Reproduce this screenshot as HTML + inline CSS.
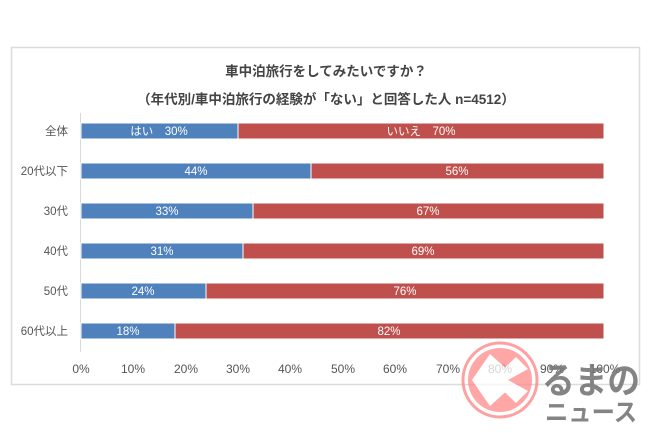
<!DOCTYPE html>
<html><head><meta charset="utf-8"><style>body{margin:0;background:#fff}svg{display:block}</style></head>
<body>
<svg width="650" height="433" viewBox="0 0 650 433" xmlns="http://www.w3.org/2000/svg" font-family="'Liberation Sans','Noto Sans CJK JP',sans-serif">
<rect x="11.5" y="47.5" width="628" height="337" fill="#fff" stroke="#dcdcdc" stroke-width="1.5"/>
<text x="326" y="76" text-anchor="middle" font-size="13.5" font-weight="bold" fill="#444">車中泊旅行をしてみたいですか？</text>
<text x="326" y="104" text-anchor="middle" font-size="13.5" font-weight="bold" fill="#444">（年代別/車中泊旅行の経験が「ない」と回答した人 n=4512）</text>
<line x1="80.5" y1="113" x2="80.5" y2="352" stroke="#d9d9d9"/>
<g font-size="11.5" fill="#555" text-anchor="end">
<text x="68" y="135">全体</text><text x="68" y="175">20代以下</text><text x="68" y="215">30代</text>
<text x="68" y="255">40代</text><text x="68" y="295">50代</text><text x="68" y="335">60代以上</text>
</g>
<g stroke="#fff" stroke-width="1">
<rect x="81" y="123" width="157" height="16" fill="#4f81bd"/><rect x="238" y="123" width="366" height="16" fill="#c0504d"/>
<rect x="81" y="163" width="230" height="16" fill="#4f81bd"/><rect x="311" y="163" width="293" height="16" fill="#c0504d"/>
<rect x="81" y="203" width="172" height="16" fill="#4f81bd"/><rect x="253" y="203" width="351" height="16" fill="#c0504d"/>
<rect x="81" y="243" width="162" height="16" fill="#4f81bd"/><rect x="243" y="243" width="361" height="16" fill="#c0504d"/>
<rect x="81" y="283" width="125" height="16" fill="#4f81bd"/><rect x="206" y="283" width="398" height="16" fill="#c0504d"/>
<rect x="81" y="323" width="94" height="16" fill="#4f81bd"/><rect x="175" y="323" width="429" height="16" fill="#c0504d"/>
</g>
<g font-size="11.5" fill="#fff" text-anchor="middle">
<text x="159" y="135">はい　30%</text><text x="421" y="135">いいえ　70%</text>
<text x="196" y="175">44%</text><text x="457" y="175">56%</text>
<text x="167" y="215">33%</text><text x="428" y="215">67%</text>
<text x="162" y="255">31%</text><text x="423" y="255">69%</text>
<text x="143" y="295">24%</text><text x="405" y="295">76%</text>
<text x="128" y="335">18%</text><text x="389" y="335">82%</text>
</g>
<g font-size="12" fill="#555" text-anchor="middle">
<text x="81" y="373">0%</text><text x="133" y="373">10%</text><text x="186" y="373">20%</text><text x="238" y="373">30%</text>
<text x="290" y="373">40%</text><text x="343" y="373">50%</text><text x="395" y="373">60%</text><text x="448" y="373">70%</text>
<text x="500" y="373">80%</text><text x="552" y="373">90%</text><text x="605" y="373">100%</text>
</g>
<g opacity="0.75">
<circle cx="500" cy="380" r="37" fill="none" stroke="#ff8080" stroke-width="3"/>
<circle cx="500" cy="380" r="32" fill="#ff8a8a"/>
<polygon points="490,354 510,372 500,380 510,388 490,406 472,380" fill="#fff"/>
<polygon points="516,357 528,369 508,380 528,391 516,403 492,380" fill="#fff"/>
</g>
<g fill="#777" opacity="0.9" font-weight="bold">
<text x="542" y="393" font-size="36" textLength="98" lengthAdjust="spacingAndGlyphs">るまの</text>
<text x="545" y="421" font-size="25" textLength="92" lengthAdjust="spacingAndGlyphs">ニュース</text>
</g>
</svg>
</body></html>
